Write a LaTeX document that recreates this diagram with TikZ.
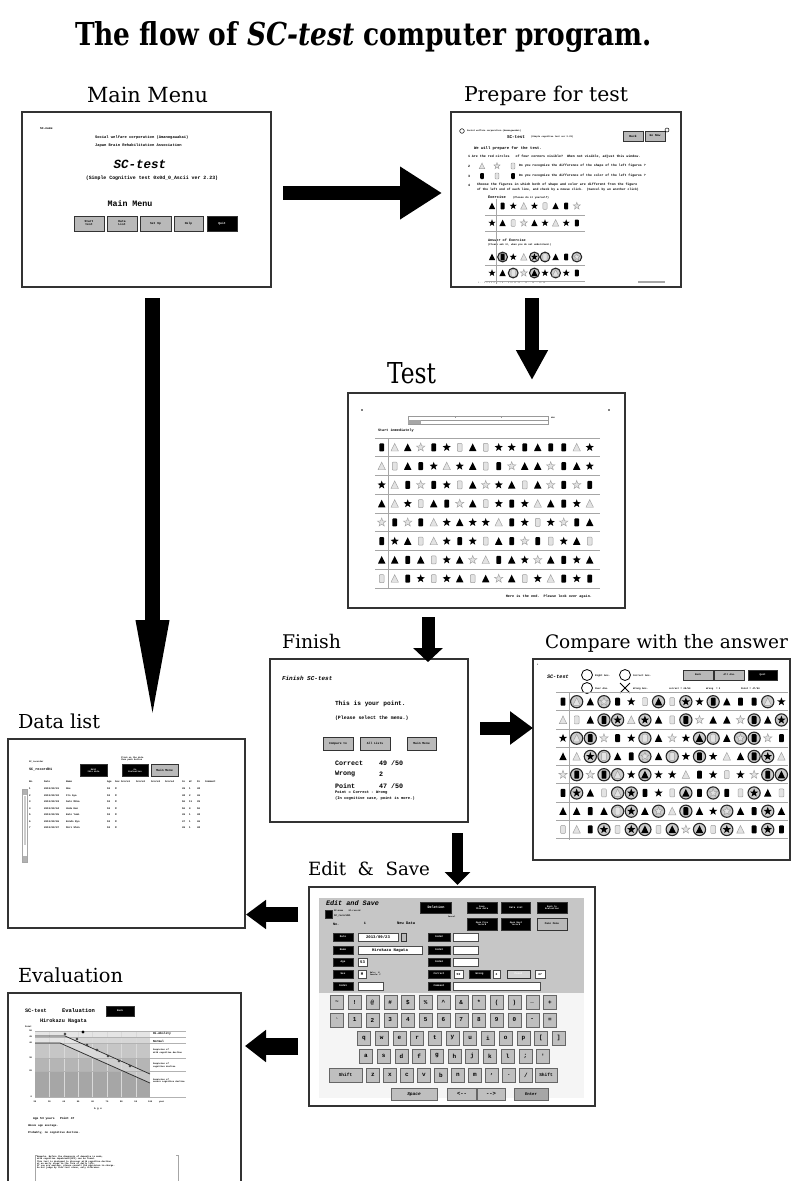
\documentclass[tikz,border=0pt]{standalone}
\usepackage{graphicx}
\usepackage{fontspec}
\setmainfont{DejaVu Serif}
\setmonofont{Liberation Mono}
\usetikzlibrary{arrows.meta,calc}
\newcommand\fs[1]{\fontsize{#1}{#1}\selectfont}
\tikzset{
  every node/.style={inner sep=0pt, outer sep=0pt},
  screen/.style={draw=black!80, line width=1.3pt, fill=white, anchor=north west},
  mono/.style={font=\ttfamily\bfseries\fs{#1}},
  monoi/.style={font=\ttfamily\bfseries\itshape\fs{#1}},
  lbl/.style={anchor=base west},
  btn/.style={draw=black!80, fill=gray!55, line width=0.6pt, font=\ttfamily\bfseries\fs{3}, align=center},
  bbtn/.style={btn, fill=black, text=white},
  field/.style={draw=black!70, fill=white, line width=0.5pt, anchor=west, inner xsep=1pt, font=\ttfamily\bfseries\fs{4}, minimum height=8},
  kbkey/.style={draw=black!60, fill=gray!50, line width=0.5pt, minimum width=13, minimum height=14, font=\ttfamily\bfseries\fs{6}},
  gline/.style={draw=gray!70, line width=0.8pt},
  barrow/.style n args={3}{draw=black, line width=#1, -{Triangle[length=#2,width=#3]}},
  gsh/.style={fill=gray!22, draw=gray!75, line width=0.45pt},
  shT/.pic={\fill[black] (0,-4)--(3.7,3.6)--(-3.7,3.6)--cycle;},
  sht/.pic={\path[gsh] (0,-4)--(3.7,3.6)--(-3.7,3.6)--cycle;},
  shS/.pic={\fill[black] (-90:4.4)--(-54:1.8)--(-18:4.4)--(18:1.8)--(54:4.4)--(90:1.8)--(126:4.4)--(162:1.8)--(198:4.4)--(234:1.8)--cycle;},
  shs/.pic={\path[gsh] (-90:4.4)--(-54:1.8)--(-18:4.4)--(18:1.8)--(54:4.4)--(90:1.8)--(126:4.4)--(162:1.8)--(198:4.4)--(234:1.8)--cycle;},
  shR/.pic={\fill[black, rounded corners=0.8] (-2.4,-4) rectangle (2.4,4);},
  shr/.pic={\path[gsh, rounded corners=0.8] (-2.4,-4) rectangle (2.4,4);},
  ciro/.pic={\path[fill=gray!40, draw=black!85, line width=1.1pt] (0,0) circle (6.1);},
  cirn/.pic={\path (0,0);},
}
\begin{document}
\begin{tikzpicture}[x=1pt,y=-1pt]
\useasboundingbox (0,0) rectangle (794,1181);
\clip (0,0) rectangle (794,1181);
\fill[white] (0,0) rectangle (794,1181);

% ================= titles and labels =================
\node[lbl, font=\bfseries] (title) at (75,45) {\resizebox{577pt}{24pt}{The flow of \textit{SC-test} computer program.}};
\node[lbl] (lMain) at (87,102) {\resizebox{121pt}{!}{Main Menu}};
\node[lbl] (lPrep) at (464,101) {\resizebox{164pt}{!}{Prepare for test}};
\node[lbl] (lTest) at (387,383) {\resizebox{49pt}{21pt}{Test}};
\node[lbl] (lFin) at (282,648) {\resizebox{59pt}{!}{Finish}};
\node[lbl] (lCmp) at (545,648) {\resizebox{243pt}{!}{Compare with the answer}};
\node[lbl] (lData) at (18,728) {\resizebox{82pt}{!}{Data list}};
\node[lbl] (lEdit) at (308,875) {\resizebox{122pt}{!}{Edit \ \& \ Save}};
\node[lbl] (lEval) at (18,982) {\resizebox{105pt}{!}{Evaluation}};

% ================= MAIN MENU =================
\node[screen, minimum width=249, minimum height=175] (main) at (22,112) {};
\node[mono=3, anchor=west] (mA) at (40,129) {SC-name};
\node[mono=3.8, anchor=west] (mB) at (95,137) {Social welfare corporation (Amanogawakai)};
\node[mono=3.8, anchor=west] (mC) at (95,146) {Japan Brain Rehabilitation Association};
\node[monoi=12.5] (mD) at (140,164) {SC-test};
\node[mono=4.9] (mE) at (152,178) {(Simple Cognitive test 0x0d\_0\_Ascii ver 2.23)};
\node[mono=8.3] (mF) at (130,204) {Main Menu};
\node[btn, minimum width=30, minimum height=15] (mb1) at (89,223.5) {Start\\test};
\node[btn, minimum width=30, minimum height=15] (mb2) at (122,223.5) {Data\\List};
\node[btn, minimum width=31, minimum height=15] (mb3) at (155.5,223.5) {Set Up};
\node[btn, minimum width=29, minimum height=15] (mb4) at (188.5,223.5) {Help};
\node[bbtn, minimum width=30, minimum height=15] (mb5) at (222,223.5) {Quit};

% ================= PREPARE =================
\node[screen, minimum width=230, minimum height=175] (prep) at (451,112) {};
\draw[line width=0.5pt] (462,131) circle (2.3);
\node[mono=2.2, anchor=west] (pA) at (467,131) {Social welfare corporation (Amanogawakai)};
\node[mono=4.3, anchor=west] (pB) at (507,137) {SC-test};
\node[mono=2.2, anchor=west] (pC) at (531,137) {(Simple cognitive test ver 2.23)};
\node[btn, minimum width=20, minimum height=10] (pD) at (633,136) {Back};
\node[btn, minimum width=20, minimum height=10] (pE) at (655,136) {Go Now};
\draw[line width=0.5pt] (667,130) circle (2);
\node[mono=3.9, anchor=west] (pF) at (474,148) {We will prepare for the test.};
\node[mono=3.3, anchor=west] (pG) at (468,157) {1 Are the red circles \ \ of four corners visible?\ \ When not visible, adjust this window.};
\node[mono=3.3, anchor=west] (pH) at (468,166) {2};
\node[mono=3.2, anchor=west] (pI) at (519,166) {Do you recognize the difference of the shape of the left figures ?};
\node[mono=3.3, anchor=west] (pJ) at (468,176) {3};
\node[mono=3.2, anchor=west] (pK) at (519,176) {Do you recognize the difference of the color of the left figures ?};
\node[mono=3.3, anchor=west] (pL) at (468,185) {4};
\node[mono=3.3, anchor=west] (pM) at (477,185) {Choose the figures in which both of shape and color are different from the figure};
\node[mono=3.1, anchor=west] (pN) at (477,190) {of the left end of each line, and check by a mouse click.\ \ (Cancel by an another click)};
\pic[scale=0.75] at (482,166) {sht};
\pic[scale=0.75] at (497,166) {shs};
\pic[scale=0.75] at (513,166) {shr};
\pic[scale=0.75] at (482,176) {shR};
\pic[scale=0.75] at (497,176) {shr};
\pic[scale=0.75] at (513,176) {shR};
\node[mono=3.7, anchor=west] (pO) at (488,197) {Exercise};
\node[mono=2.6, anchor=west] (pP) at (513,198) {(Please do it yourself)};
\foreach \row [count=\j from 0] in {{T,R,S,t,S,r,T,R,s},{S,T,r,s,T,S,t,S,R}}
  \foreach \s [count=\i from 0] in \row
    \pic[scale=0.85] at ({492+10.6*\i},{206+17*\j}) {sh\s};
\draw[gline] (485,215) -- (585,215);
\draw[gline] (485,231) -- (585,231);
\node[mono=3.5, anchor=west] (pQ) at (488,240) {Answer of Exercise};
\node[mono=2.4, anchor=west] (pR) at (488,245) {(Please ask it, when you do not understand.)};
\foreach \row [count=\j from 0] in {{T/n,R/o,S/n,t/n,S/o,r/o,T/n,R/n,s/o},{S/n,T/n,r/o,s/n,T/o,S/n,t/o,S/n,R/n}}
  \foreach \s/\c [count=\i from 0] in \row {
    \pic[scale=0.8] at ({492+10.6*\i},{257+16*\j}) {cir\c};
    \pic[scale=0.85] at ({492+10.6*\i},{257+16*\j}) {sh\s};
  }
\draw[gline] (485,265) -- (585,265);
\draw[gline] (485,281) -- (585,281);
\draw[line width=0.7pt, gray!70] (496.5,199) -- (496.5,284);
\node[mono=2, anchor=west, text=gray] (pS) at (478,283) {1 .. 2 3 4 5 6 .. 7 8 .. 9 10 11 12 .. 13 .. 14 .. 15 16};
\draw[line width=1.6pt, gray!70] (638,282) -- (665,282);

% ================= TEST =================
\node[screen, minimum width=277, minimum height=215] (test) at (348,393) {};
\fill (362,410) circle (0.9);
\fill (609,410) circle (0.9);
\draw[line width=0.5pt, gray!80] (408,416) rectangle (548,424);
\draw[line width=0.4pt, gray!80] (408,420) -- (548,420);
\foreach \tx in {455,501} \draw[line width=0.4pt, gray!80] (\tx,416) -- (\tx,418);
\fill[gray!70] (408,420) rectangle (421,424);
\node[mono=2.2, anchor=west] (tA) at (551,418) {min};
\node[mono=3.5, anchor=west] (tB) at (378,431) {Start immediately};
\foreach \row [count=\j from 0] in {
  {R,t,T,s,R,S,r,T,r,S,S,R,T,R,R,t,S},
  {t,r,T,R,S,t,S,T,r,R,s,T,T,s,R,T,S},
  {S,t,R,s,R,S,r,T,s,S,T,r,T,s,R,s,R},
  {T,t,S,r,T,R,s,T,r,S,R,S,t,T,R,S,t},
  {s,R,s,R,t,S,T,S,S,t,R,S,r,S,s,R,T},
  {R,S,T,r,t,S,R,S,r,T,R,s,R,r,S,T,r},
  {T,T,R,T,r,S,T,s,t,R,T,S,s,T,R,S,T},
  {r,t,R,S,r,S,T,r,T,s,T,r,S,t,R,S,R}}
  \foreach \s [count=\i from 0] in \row
    \pic at ({381.7+13*\i},{447.4+18.75*\j}) {sh\s};
\foreach \k in {0,...,8}
  \draw[gline] (375,{438+18.75*\k}) -- (600,{438+18.75*\k});
\draw[line width=0.7pt, gray!70] (388,438) -- (388,588);
\node[mono=3.5, anchor=east] (tC) at (592,597) {Here is the end.\ \ Please look over again.};

% ================= FINISH =================
\node[screen, minimum width=198, minimum height=163] (fin) at (270,659) {};
\node[monoi=6, anchor=west] (fA) at (282,678) {Finish SC-test};
\node[mono=6.2, anchor=west] (fB) at (335,704) {This is your point.};
\node[mono=4.9, anchor=west] (fC) at (335,718) {(Please select the menu.)};
\node[btn, minimum width=30, minimum height=13] (fD) at (338,743.5) {Compare to};
\node[btn, minimum width=30, minimum height=13] (fE) at (375,743.5) {All Lists};
\node[btn, minimum width=29, minimum height=13] (fF) at (421.5,743.5) {Main Menu};
\node[mono=6.7, anchor=west] (fG) at (335,763) {Correct};
\node[mono=6.7, anchor=west] (fH) at (379,763) {49 /50};
\node[mono=6.7, anchor=west] (fI) at (335,774) {Wrong};
\node[mono=6.7, anchor=west] (fJ) at (379,774) {2};
\node[mono=6.7, anchor=west] (fK) at (335,786) {Point};
\node[mono=6.7, anchor=west] (fL) at (379,786) {47 /50};
\node[mono=3.8, anchor=west] (fM) at (335,793) {Point = Correct - Wrong};
\node[mono=3.8, anchor=west] (fN) at (335,799) {(In cognitive case, point is more.)};

% ================= COMPARE =================
\node[screen, minimum width=257, minimum height=201] (cmp) at (533,659) {};
\node[mono=2, anchor=west] (cA) at (537,665) {1};
\node[monoi=5.2, anchor=west] (cB) at (547,677) {SC-test};
\draw[line width=0.8pt] (587,675) circle (5.5);
\node[mono=2.5, anchor=west] (cC) at (595,676) {Right Ans.};
\draw[line width=0.8pt] (587,688) circle (5.5);
\node[mono=2.5, anchor=west] (cD) at (595,689) {Over Ans.};
\draw[line width=0.8pt] (625,675) circle (5.5);
\node[mono=2.5, anchor=west] (cE) at (633,676) {Correct Ans.};
\draw[line width=0.8pt] (620,683) -- (630,693) (630,683) -- (620,693);
\node[mono=2.5, anchor=west] (cF) at (633,689) {Wrong Ans.};
\node[mono=2.4, anchor=west] (cG) at (669,689) {correct = 49/50};
\node[mono=2.4, anchor=west] (cH) at (706,689) {Wrong\ \ = 2};
\node[mono=2.4, anchor=west] (cI) at (741,689) {Point = 47/50};
\node[btn, minimum width=30, minimum height=10, font=\ttfamily\bfseries\fs{2.5}] (cJ) at (698,675) {Back};
\node[btn, minimum width=30, minimum height=10, font=\ttfamily\bfseries\fs{2.5}] (cK) at (729.5,675) {All Ans.};
\node[bbtn, minimum width=29, minimum height=10, font=\ttfamily\bfseries\fs{2.5}] (cL) at (762.5,675) {Quit};
\foreach \row [count=\j from 0] in {
  {R/n,t/o,T/n,s/o,R/n,S/n,r/n,T/o,r/n,S/o,S/n,R/o,T/n,R/n,R/n,t/o,S/n},
  {t/n,r/n,T/n,R/o,S/o,t/n,S/o,T/n,r/n,R/o,s/n,T/n,T/n,s/n,R/o,T/n,S/o},
  {S/n,t/o,R/o,s/n,R/n,S/n,r/o,T/n,s/n,S/n,T/o,r/o,T/n,s/o,R/o,s/n,R/n},
  {T/n,t/n,S/o,r/o,T/n,R/n,s/o,T/n,r/o,S/n,R/o,S/n,t/n,T/n,R/o,S/o,t/n},
  {s/n,R/o,s/n,R/o,t/o,S/n,T/o,S/n,S/n,t/n,R/n,S/n,r/n,S/n,s/n,R/o,T/o},
  {R/n,S/o,T/n,r/n,t/o,S/o,R/n,S/n,r/n,T/o,R/n,s/o,R/n,r/n,S/o,T/n,r/n},
  {T/n,T/n,R/n,T/n,r/o,S/o,T/n,s/o,t/n,R/o,T/n,S/n,s/o,T/n,R/n,S/o,T/n},
  {r/n,t/n,R/n,S/o,r/n,S/o,T/o,r/n,T/o,s/n,T/o,r/n,S/o,t/n,R/n,S/o,R/n}}
  \foreach \s/\c [count=\i from 0] in \row {
    \pic at ({563+13.65*\i},{701.7+18.25*\j}) {cir\c};
    \pic at ({563+13.65*\i},{701.7+18.25*\j}) {sh\s};
  }
\foreach \k in {0,...,8}
  \draw[gline] (556,{692.6+18.25*\k}) -- (788,{692.6+18.25*\k});
\draw[line width=0.7pt, gray!70] (569,693) -- (569,840);

% ================= DATA LIST =================
\node[screen, minimum width=237, minimum height=189] (data) at (8,739) {};
\node[mono=2.2, anchor=west] (dA) at (29,762) {SC\_recorder};
\node[mono=3.5, anchor=west] (dB) at (29,769) {SC\_record01};
\node[bbtn, minimum width=27, minimum height=12, font=\ttfamily\bfseries\fs{2.2}] (dC) at (93.5,770.5) {Edit\\this data};
\node[mono=2.2, anchor=west, align=left] (dD) at (121,759) {Click on the data\\then push button};
\node[bbtn, minimum width=26, minimum height=12, font=\ttfamily\bfseries\fs{2.2}] (dE) at (135,770.5) {Go\\Evaluation};
\node[btn, minimum width=27, minimum height=12, font=\ttfamily\bfseries\fs{3}] (dF) at (164.5,770.5) {Main Menu};
\foreach \t/\x in {No./29,Date/44,Name/66,Age/107,Sex/115,Score1/121,Score2/136,Score3/151,Score4/165,Co/182,Wr/189,Po/197,Comment/205}
  \node[mono=2.5, anchor=west] (dh\x) at (\x,782) {\t};
\foreach \n/\nm/\co/\wr/\po [count=\i from 0] in {1/Abe/49/1/48,2/Ito Aya/48/2/46,3/Sato Mika/50/11/39,4/Ueda Ken/50/0/50,5/Kato Yumi/49/1/48,6/Kondo Ryo/47/1/46,7/Mori Shin/49/1/48}{
  \node[mono=2.5, anchor=west] (dn\i) at (29,{789+6.5*\i}) {\n};
  \node[mono=2.5, anchor=west] (dd\i) at (44,{789+6.5*\i}) {2013/09/0\n};
  \node[mono=2.5, anchor=west] (dm\i) at (66,{789+6.5*\i}) {\nm};
  \node[mono=2.5, anchor=west] (da\i) at (107,{789+6.5*\i}) {53};
  \node[mono=2.5, anchor=west] (ds\i) at (115,{789+6.5*\i}) {M};
  \node[mono=2.5, anchor=west] (dc\i) at (182,{789+6.5*\i}) {\co};
  \node[mono=2.5, anchor=west] (dw\i) at (189,{789+6.5*\i}) {\wr};
  \node[mono=2.5, anchor=west] (dp\i) at (197,{789+6.5*\i}) {\po};
}
\draw[line width=0.5pt, gray!70] (22,789) rectangle (27,862);
\fill[gray!60] (22.5,789.5) rectangle (26.5,795);
\fill[gray!60] (22.5,856) rectangle (26.5,861.5);
\fill[gray!40] (23.5,796) rectangle (25.5,845);

% ================= EDIT & SAVE =================
\node[screen, minimum width=286, minimum height=219] (edit) at (309,887) {};
\fill[gray!45] (319,898) rectangle (584,993);
\fill[gray!8] (319,993) rectangle (584,1098);
\node[monoi=6.8, anchor=west] (eA) at (326,903) {Edit and Save};
\node[bbtn, minimum width=7, minimum height=8] (eB) at (328.5,914) {};
\node[mono=2.2, anchor=west] (eC) at (334,911) {SC-name\ \ \ \ SC-record};
\node[mono=2.5, anchor=west] (eD) at (334,916) {SC\_record01};
\node[mono=3.5, anchor=west] (eE) at (333,924) {No.};
\node[mono=3.5] (eF) at (365,923) {1};
\node[mono=3.8, anchor=west] (eG) at (397,923) {New Data};
\node[bbtn, minimum width=31, minimum height=11, font=\ttfamily\bfseries\fs{3.5}] (eH) at (436,907.5) {Deletion};
\node[mono=2, anchor=west] (eI) at (448,917) {Cancel};
\node[bbtn, minimum width=30, minimum height=11, font=\ttfamily\bfseries\fs{2.3}] (eJ) at (482,907.5) {Save\\this data};
\node[bbtn, minimum width=29, minimum height=11, font=\ttfamily\bfseries\fs{2.5}] (eK) at (516,907.5) {Data List};
\node[bbtn, minimum width=30, minimum height=11, font=\ttfamily\bfseries\fs{2.3}] (eL) at (552,907.5) {Back to\\Evaluation};
\node[bbtn, minimum width=30, minimum height=12, font=\ttfamily\bfseries\fs{2.3}] (eM) at (482,924) {Open Prev\\record};
\node[bbtn, minimum width=29, minimum height=12, font=\ttfamily\bfseries\fs{2.3}] (eN) at (516,924) {Open Next\\record};
\node[btn, minimum width=30, minimum height=12, font=\ttfamily\bfseries\fs{2.6}] (eO) at (552,924) {Main Menu};
\foreach \t/\y in {Date/937,Name/950,Age/962,Sex/974,Code1/986}
  \node[bbtn, minimum width=20, minimum height=8, font=\ttfamily\bfseries\fs{2.6}] (el\t) at (343,\y) {\t};
\foreach \t/\y in {Code2/937,Code3/950,Code4/962,Correct/974,Comment/986}
  \node[bbtn, minimum width=22, minimum height=8, font=\ttfamily\bfseries\fs{2.6}] (er\t) at (439,\y) {\t};
\node[field, minimum width=40] (eP) at (358,937) {2013/09/23};
\node[btn, minimum width=5, minimum height=8] (eQ) at (404,937) {};
\node[field, minimum width=64] (eR) at (358,950) {Hirokazu Nagata};
\node[field, minimum width=9] (eS) at (358,962) {53};
\node[field, minimum width=8] (eT) at (358,974) {M};
\node[mono=2, anchor=west, align=left] (eU) at (370,974) {Male:\ \ M\\Female: F};
\node[field, minimum width=25] (eV) at (358,986) {};
\node[field, minimum width=25] (eW) at (453,937) {};
\node[field, minimum width=25] (eX) at (453,950) {};
\node[field, minimum width=25] (eY) at (453,962) {};
\node[field, minimum width=9, font=\ttfamily\bfseries\fs{3}] (eZ) at (454,974) {50};
\node[bbtn, minimum width=21, minimum height=8, font=\ttfamily\bfseries\fs{2.6}] (eAA) at (479.5,974) {Wrong};
\node[field, minimum width=7, font=\ttfamily\bfseries\fs{3}] (eAB) at (493,974) {2};
\node[btn, minimum width=23, minimum height=8, fill=gray!35, text=white, font=\ttfamily\bfseries\fs{2.6}] (eAC) at (518.5,974) {Point};
\node[field, minimum width=10, font=\ttfamily\bfseries\fs{3}] (eAD) at (535,974) {47};
\node[field, minimum width=87] (eAE) at (453,986) {};
\foreach \k [count=\i from 0] in {\textasciitilde,!,@,\#,\$,\%,\textasciicircum,\&,*,{(},{)},\_,+}
  \node[kbkey] (ka\i) at ({337+17.75*\i},1002.5) {\k};
\foreach \k [count=\i from 0] in {\textasciigrave,1,2,3,4,5,6,7,8,9,0,-,=}
  \node[kbkey] (kb\i) at ({337+17.75*\i},1020) {\k};
\foreach \k [count=\i from 0] in {q,w,e,r,t,y,u,i,o,p,{[},{]}}
  \node[kbkey] (kc\i) at ({364+17.7*\i},1038) {\k};
\foreach \k [count=\i from 0] in {a,s,d,f,g,h,j,k,l,;,'}
  \node[kbkey] (kd\i) at ({366+17.7*\i},1056) {\k};
\node[kbkey, minimum width=33, font=\ttfamily\bfseries\fs{4.5}] (keL) at (345.5,1075) {Shift};
\foreach \k [count=\i from 0] in {z,x,c,v,b,n,m,{,},.,/}
  \node[kbkey] (ke\i) at ({373+17*\i},1075) {\k};
\node[kbkey, minimum width=22, font=\ttfamily\bfseries\fs{4.5}] (keR) at (546,1075) {Shift};
\node[kbkey, minimum width=46, minimum height=12, font=\ttfamily\bfseries\itshape\fs{4.5}] (kf1) at (414,1094) {Space};
\node[kbkey, minimum width=29, minimum height=12, font=\ttfamily\bfseries\fs{5.5}] (kf2) at (462,1094) {<--};
\node[kbkey, minimum width=28, minimum height=12, font=\ttfamily\bfseries\fs{5.5}] (kf3) at (491,1094) {-->};
\node[kbkey, minimum width=34, minimum height=12, fill=gray!70, font=\ttfamily\bfseries\fs{4}] (kf4) at (531,1094) {Enter};

% ================= EVALUATION =================
\node[screen, minimum width=233, minimum height=200] (eval) at (8,993) {};
\node[mono=5.2, anchor=west] (vA) at (25,1011) {SC-test};
\node[mono=5.5, anchor=west] (vB) at (62,1011) {Evaluation};
\node[bbtn, minimum width=28, minimum height=10, font=\ttfamily\bfseries\fs{2.5}] (vC) at (120,1011) {Back};
\node[mono=5.2, anchor=west] (vD) at (40,1021) {Hirokazu Nagata};
\node[mono=2.2, anchor=west] (vE) at (25,1027) {Point};
\fill[gray!20] (35,1031) rectangle (150,1037);
\fill[gray!32] (35,1037) rectangle (150,1043);
\fill[gray!45] (35,1043) rectangle (150,1058);
\fill[gray!58] (35,1058) rectangle (150,1071);
\fill[gray!70] (35,1071) rectangle (150,1097);
\fill[white, opacity=0.35] (35,1036) -- (65,1036) -- (150,1074) -- (150,1083) -- (60,1043) -- (35,1043) -- cycle;
\foreach \i in {1,...,7} \draw[white!70!gray, line width=0.3pt] ({35+14.4*\i},1031) -- ({35+14.4*\i},1097);
\foreach \yy in {1031,1037,1043,1058,1071,1097} \draw[gray!60, line width=0.4pt] (35,\yy) -- (186,\yy);
\draw[gray!30!black, line width=0.7pt] (35,1036) -- (65,1036) -- (150,1074);
\draw[gray!30!black, line width=0.7pt] (35,1043) -- (60,1043) -- (150,1083);
\foreach \px/\py in {65/1034,77/1039,87/1045,97/1050,108/1056,119/1061,130/1066}
  \draw[line width=0.4pt, fill=gray!30] (\px,\py) circle (1.2);
\fill (83,1032) circle (1.6);
\foreach \t/\yy in {50/1031,45/1037,40/1043,30/1058,20/1071,0/1097}
  \node[mono=2.2, anchor=east] (vy\t) at (32,\yy) {\t};
\foreach \t [count=\i from 0] in {20,30,40,50,60,70,80,90,100}
  \node[mono=2.2] (vx\t) at ({35+14.4*\i},1102) {\t};
\node[mono=2.2, anchor=west] (vF) at (159,1102) {year};
\node[mono=2.5] (vG) at (98,1109) {A g e};
\node[mono=3, anchor=west] (vH) at (153,1034) {Hi-Ability};
\node[mono=3, anchor=west] (vI) at (153,1041) {Normal};
\node[mono=2.2, anchor=west, align=left] (vJ) at (153,1051.5) {Suspicion of\\mild cognitive decline};
\node[mono=2.2, anchor=west, align=left] (vK) at (153,1065.5) {Suspicion of\\cognitive decline};
\node[mono=2.2, anchor=west, align=left] (vL) at (153,1081) {Suspicion of\\severe cognitive decline};
\node[mono=3, anchor=west] (vM) at (33,1119) {Age 53 years\ \ \ Point 47};
\node[mono=2.8, anchor=west] (vN) at (28,1126) {Above age average.};
\node[mono=2.8, anchor=west] (vO) at (28,1133) {Probably, no cognitive decline.};
\draw[line width=0.4pt, gray!70] (35,1185) -- (35,1155) -- (37,1155);
\draw[line width=0.4pt, gray!70] (176,1155) -- (178,1155) -- (178,1185);
\node[mono=2.2, anchor=north west, align=left] (vP) at (37,1156) {Remarks. Before the diagnosis of dementia is made,\\mild cognitive impairment(MCI) can be found.\\This test is designed to discover mild cognitive decline\\at an early stage in the form of daily life.\\If you are anxious, please consult the physician in charge.\\Do not judge by this test alone, only reference.};

% ================= ARROWS =================
\draw[barrow={14pt}{42pt}{50pt}] ($(main.east)+(12,-6.5)$) -- ($(prep.west)+(-9,-6.5)$);
\draw[barrow={15pt}{107pt}{29pt}] ($(main.south)+(6,11)$) -- ($(data.north)+(26,-12)$);
\draw[barrow={14pt}{30pt}{30pt}] ($(prep.south)+(-34,11)$) -- ($(test.north)+(45.5,-13)$);
\draw[barrow={13pt}{14pt}{29pt}] ($(test.south)+(-58.5,9)$) -- ($(fin.north)+(59,3)$);
\draw[barrow={13pt}{23pt}{32pt}] ($(fin.east)+(12,-12.5)$) -- ($(cmp.west)+(0,-31.5)$);
\draw[barrow={11pt}{13pt}{25pt}] ($(fin.south)+(88.5,11)$) -- ($(edit.north)+(5.5,-2)$);
\draw[barrow={15pt}{20pt}{28pt}] ($(edit.west)+(-11,-82)$) -- ($(data.east)+(1,81)$);
\draw[barrow={17pt}{21pt}{31pt}] ($(edit.west)+(-11,49.5)$) -- ($(eval.east)+(4,-47)$);
\end{tikzpicture}
\end{document}
